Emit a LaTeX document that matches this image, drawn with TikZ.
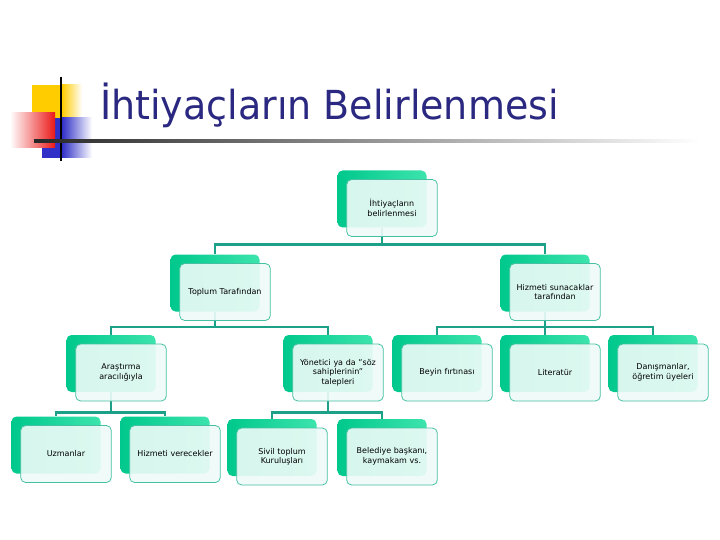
\documentclass[tikz,border=0pt]{standalone}
\usepackage{fontspec}
\setmainfont{DejaVu Sans}
\newfontfamily\titlefont[FakeStretch=0.95]{DejaVu Sans}
\usetikzlibrary{positioning}
\definecolor{titleblue}{RGB}{42,40,128}
\definecolor{boxgreen}{RGB}{0,200,140}
\definecolor{boxlight}{RGB}{60,228,172}
\definecolor{boxfill}{RGB}{238,251,248}
\definecolor{boxedge}{RGB}{70,192,162}
\definecolor{linkteal}{RGB}{28,160,136}
\definecolor{logoyellow}{RGB}{255,204,0}
\definecolor{logored}{RGB}{235,25,25}
\definecolor{logoblue}{RGB}{48,48,200}

\begin{document}
\begin{tikzpicture}[x=1pt, y=-1pt,
  back/.style={rectangle, rounded corners=5pt, minimum width=89pt, minimum height=57pt, inner sep=0pt, left color=boxgreen, right color=boxlight},
  front/.style={rectangle, rounded corners=5pt, draw=boxedge, line width=0.8pt, fill=boxfill, fill opacity=0.9, text opacity=1, minimum width=89pt, minimum height=57pt, text width=84pt, align=center, font=\fontsize{8}{9.5}\selectfont},
  link/.style={draw=linkteal, line width=2.5pt}]
\useasboundingbox (0,0) rectangle (720,540);
% logo and title
\fill[logoyellow] (32,85) rectangle (62,118);
\shade[left color=logoyellow, right color=white] (62,85) rectangle (82,118);
\fill[logoblue] (42,118) rectangle (62,158);
\shade[left color=logoblue, right color=white] (62,118) rectangle (92,158);
\shade[left color=white, right color=logored] (10,113) rectangle (55,148);
\draw[black, line width=2.5pt] (61,77) -- (61,161);
\shade[left color=black!85, right color=white] (34,139.8) rectangle (700,142.2);
\node[anchor=base west, inner sep=0pt, text=titleblue, font=\titlefont\fontsize{40}{48}\selectfont] (title) at (100,120) {İhtiyaçların Belirlenmesi};
% back boxes
\node[back] (rootb) at (382,199) {};
\node[back] (topb) at (215,283) {};
\node[back] (hizb) at (545,283) {};
\node[back] (arab) at (111,363.5) {};
\node[back] (yonb) at (328,363.5) {};
\node[back] (beyb) at (437,363.5) {};
\node[back] (litb) at (545,363.5) {};
\node[back] (danb) at (653,363.5) {};
\node[back] (uzmb) at (56,445) {};
\node[back] (verb) at (165,445) {};
\node[back] (sivb) at (272,447.5) {};
\node[back] (belb) at (382,447.5) {};
% connectors
\draw[link] (rootb.south) -- ++(0,17) -| (topb.north);
\draw[link] (rootb.south) -- ++(0,17) -| (hizb.north);
\draw[link] (topb.south) -- ++(0,15.5) -| (arab.north);
\draw[link] (topb.south) -- ++(0,15.5) -| (yonb.north);
\draw[link] (hizb.south) -- ++(0,15.5) -| (beyb.north);
\draw[link] (hizb.south) -- ++(0,15.5) -| (litb.north);
\draw[link] (hizb.south) -- ++(0,15.5) -| (danb.north);
\draw[link] (arab.south) -- ++(0,20.5) -| (uzmb.north);
\draw[link] (arab.south) -- ++(0,20.5) -| (verb.north);
\draw[link] (yonb.south) -- ++(0,20.5) -| (sivb.north);
\draw[link] (yonb.south) -- ++(0,20.5) -| (belb.north);
% front boxes
\node[front] (root) at ([shift={(10,9)}]rootb.center) {İhtiyaçların\\ belirlenmesi};
\node[front] (top) at ([shift={(10,9)}]topb.center) {Toplum Tarafından};
\node[front] (hiz) at ([shift={(10,9)}]hizb.center) {Hizmeti sunacaklar\\ tarafından};
\node[front] (ara) at ([shift={(10,9)}]arab.center) {Araştırma\\ aracılığıyla};
\node[front] (yon) at ([shift={(10,9)}]yonb.center) {Yönetici ya da "söz\\ sahiplerinin"\\ talepleri};
\node[front] (bey) at ([shift={(10,9)}]beyb.center) {Beyin fırtınası};
\node[front] (lit) at ([shift={(10,9)}]litb.center) {Literatür};
\node[front] (dan) at ([shift={(10,9)}]danb.center) {Danışmanlar,\\ öğretim üyeleri};
\node[front] (uzm) at ([shift={(10,9)}]uzmb.center) {Uzmanlar};
\node[front] (ver) at ([shift={(10,9)}]verb.center) {Hizmeti verecekler};
\node[front] (siv) at ([shift={(10,9)}]sivb.center) {Sivil toplum\\ Kuruluşları};
\node[front] (bel) at ([shift={(10,9)}]belb.center) {Belediye başkanı,\\ kaymakam vs.};
\end{tikzpicture}
\end{document}
